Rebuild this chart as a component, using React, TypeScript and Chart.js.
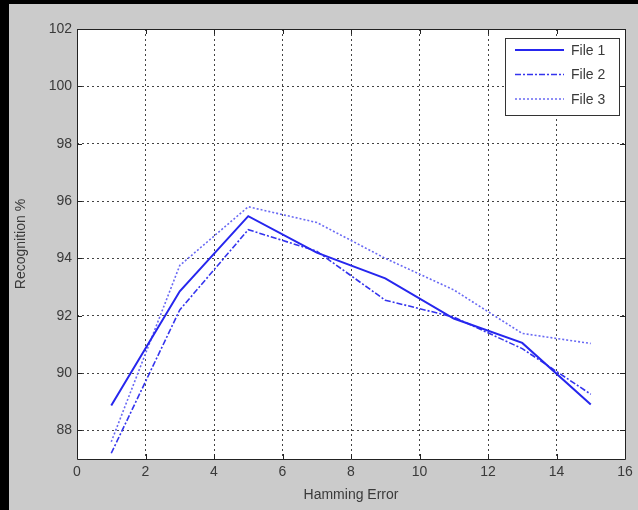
import React, { useEffect, useRef } from "react";
import { Chart, registerables } from "chart.js";

Chart.register(...registerables);

const hammingError = [1, 3, 5, 7, 9, 11, 13, 15];
const file1 = [88.87, 92.85, 95.47, 94.2, 93.3, 91.9, 91.05, 88.9];
const file2 = [87.2, 92.2, 95.0, 94.25, 92.54, 91.95, 90.85, 89.26];
const file3 = [87.6, 93.75, 95.8, 95.25, 94.0, 92.9, 91.38, 91.03];
const seriesLabels = ["File 1", "File 2", "File 3"];
const xTitle = "Hamming Error";
const yTitle = "Recognition %";

const FONT = "'Liberation Sans', Arial, sans-serif";
const TEXT = "#3a3a3a";

const framePlugin = {
  id: "frame",
  beforeDraw(chart: any) {
    const { ctx, width, height, chartArea: a } = chart;
    ctx.save();
    ctx.fillStyle = "#cbcbcb";
    ctx.fillRect(0, 0, width, height);
    ctx.fillStyle = "#000";
    ctx.fillRect(0, 0, width, 4);
    ctx.fillRect(0, 0, 9, height);
    ctx.fillStyle = "#fff";
    ctx.fillRect(a.left, a.top, a.right - a.left, a.bottom - a.top);
    ctx.restore();
  },
  afterDraw(chart: any) {
    const { ctx, chartArea: a, scales } = chart;
    ctx.save();
    ctx.strokeStyle = "#222";
    ctx.lineWidth = 1;
    ctx.beginPath();
    ctx.rect(Math.round(a.left) + 0.5, Math.round(a.top) + 0.5, Math.round(a.right - a.left), Math.round(a.bottom - a.top));
    ctx.stroke();
    const tl = 5;
    ctx.beginPath();
    scales.x.ticks.forEach((t: any) => {
      const px = Math.round(scales.x.getPixelForValue(t.value)) + 0.5;
      ctx.moveTo(px, a.bottom);
      ctx.lineTo(px, a.bottom - tl);
      ctx.moveTo(px, a.top);
      ctx.lineTo(px, a.top + tl);
    });
    scales.y.ticks.forEach((t: any) => {
      const py = Math.round(scales.y.getPixelForValue(t.value)) + 0.5;
      ctx.moveTo(a.left, py);
      ctx.lineTo(a.left + tl, py);
      ctx.moveTo(a.right, py);
      ctx.lineTo(a.right - tl, py);
    });
    ctx.stroke();

    // legend
    const lx = 505, ly = 38, lw = 114, lh = 77;
    ctx.fillStyle = "#fff";
    ctx.fillRect(lx, ly, lw, lh);
    ctx.strokeStyle = "#333";
    ctx.strokeRect(lx + 0.5, ly + 0.5, lw, lh);
    chart.data.datasets.forEach((ds: any, i: number) => {
      const y = ly + 12 + i * 24.5;
      ctx.save();
      ctx.strokeStyle = ds.borderColor;
      ctx.lineWidth = ds.borderWidth;
      ctx.setLineDash(ds.borderDash || []);
      ctx.beginPath();
      ctx.moveTo(lx + 10, y);
      ctx.lineTo(lx + 59, y);
      ctx.stroke();
      ctx.restore();
      ctx.fillStyle = TEXT;
      ctx.font = `14px ${FONT}`;
      ctx.textAlign = "left";
      ctx.textBaseline = "middle";
      ctx.fillText(ds.label, lx + 66, y + 1);
    });
    ctx.restore();
  },
};

export default function App() {
  const ref = useRef<HTMLCanvasElement | null>(null);
  useEffect(() => {
    document.body.style.margin = "0";
    const mk = (vals: number[]) => hammingError.map((x, i) => ({ x, y: vals[i] }));
    const chart = new Chart(ref.current as HTMLCanvasElement, {
      type: "line",
      data: {
        datasets: [
          { label: seriesLabels[0], data: mk(file1), borderColor: "#2626ee", borderWidth: 2, borderDash: [], pointRadius: 0, tension: 0 },
          { label: seriesLabels[1], data: mk(file2), borderColor: "#3434ee", borderWidth: 1.6, borderDash: [6, 2, 2, 2], pointRadius: 0, tension: 0 },
          { label: seriesLabels[2], data: mk(file3), borderColor: "#6a6af4", borderWidth: 1.6, borderDash: [2, 2], pointRadius: 0, tension: 0 },
        ],
      },
      options: {
        animation: false,
        responsive: false,
        layout: { padding: { left: 0, top: 29, right: 13, bottom: 0 } },
        plugins: { legend: { display: false }, tooltip: { enabled: false } },
        scales: {
          x: {
            type: "linear",
            min: 0,
            max: 16,
            afterFit: (s: any) => { s.height = 51; },
            ticks: { stepSize: 2, padding: 5, color: TEXT, font: { family: FONT, size: 14 } },
            grid: { color: "#444", drawTicks: false, lineWidth: 1 },
            border: { display: false, dash: [2, 3] },
            title: { display: true, text: xTitle, color: TEXT, font: { family: FONT, size: 14 }, padding: { top: 0, bottom: 6 } },
          },
          y: {
            type: "linear",
            min: 87,
            max: 102,
            afterFit: (s: any) => { s.width = 77; },
            afterBuildTicks: (s: any) => { s.ticks = s.ticks.filter((t: any) => t.value % 2 === 0); },
            ticks: { stepSize: 2, padding: 5, color: TEXT, font: { family: FONT, size: 14 } },
            grid: { color: "#444", drawTicks: false, lineWidth: 1 },
            border: { display: false, dash: [2, 3] },
            title: { display: true, text: yTitle, color: TEXT, font: { family: FONT, size: 14 }, padding: { top: 13, bottom: 0 } },
          },
        },
      },
      plugins: [framePlugin],
    } as any);
    return () => chart.destroy();
  }, []);
  return (
    <div style={{ position: "absolute", left: 0, top: 0, width: 638, height: 510 }}>
      <canvas ref={ref} width={638} height={510} style={{ display: "block", width: 638, height: 510 }} />
    </div>
  );
}
